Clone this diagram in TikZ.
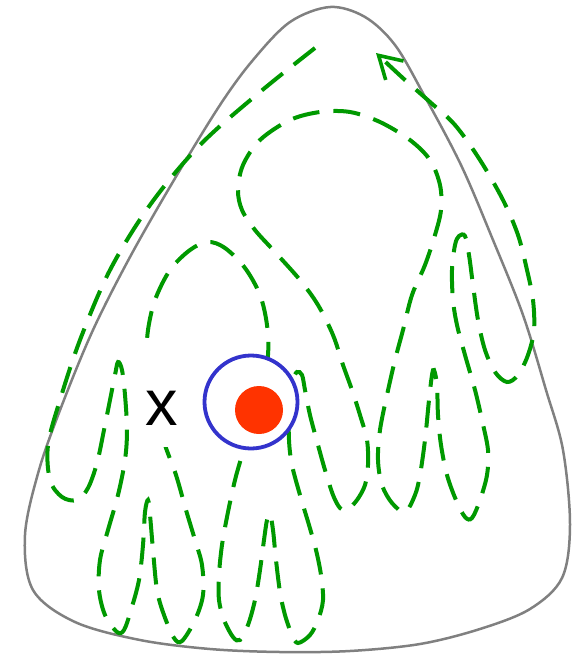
\documentclass[tikz,border=0pt]{standalone}
\usepackage{fontspec}
\setmainfont{Liberation Sans}
\usetikzlibrary{arrows.meta}
\definecolor{pathgreen}{RGB}{0,153,0}
\definecolor{ringblue}{RGB}{51,51,204}
\definecolor{dotred}{RGB}{255,51,0}
\definecolor{outlinegray}{RGB}{128,128,128}
\tikzset{
  outline/.style={draw=outlinegray, line width=2.5pt},
  windcurve/.style={draw=pathgreen, line width=4pt, dash pattern=on 27pt off 14pt},
  ring/.style={circle, draw=ringblue, line width=3.8pt, fill=white, minimum size=93pt, inner sep=0pt},
  reddot/.style={circle, fill=dotred, minimum size=48pt, inner sep=0pt},
  marklabel/.style={font=\fontsize{65}{72}\selectfont, inner sep=0pt}
}
\begin{document}
\begin{tikzpicture}[x=1pt,y=-1pt]
\useasboundingbox (0,0) rectangle (573,654);
\draw[outline] plot[smooth cycle, tension=0.55] coordinates {
 (330,7) (290,22) (253,60) (220,105) (174,180) (130,257) (93,330) (62,405) (39,470) (25,535)
 (33,590) (75,622) (140,640) (210,649) (280,652) (350,651) (420,644) (480,629) (530,609)
 (562,578) (570,525) (563,450) (546,390) (523,315) (493,240) (461,165) (424,95) (395,45) (365,17)};
\draw[windcurve, -{Straight Barb[length=22pt,width=26pt,line width=3.6pt]}] plot[smooth, tension=0.55] coordinates {
 (315,48) (260,92) (200,145) (150,205) (110,270) (80,340) (60,400) (48,445) (50,480) (62,497)
 (77,500) (88,488) (97,463) (104,430) (110,400) (115,375) (118,362) (122,370) (125,395)
 (127,430) (125,460) (118,495) (108,530) (100,560) (99,590) (105,615) (117,632) (124,630)
 (131,610) (139,580) (143,545) (145,512) (148,500) (150,515) (153,550) (157,590) (164,615)
 (174,638) (182,641) (195,620) (203,595) (202,565) (195,540) (186,510) (176,475) (165,445)
 (157,415) (150,385) (147,355) (148,330) (155,300) (170,270) (190,250) (208,242) (225,248)
 (245,268) (260,295) (267,325) (268,355) (262,390) (250,425) (242,455) (235,480) (228,512)
 (222,545) (219,575) (219,600) (224,620) (233,637) (240,640) (248,625) (255,600) (260,570)
 (264,540) (267,520) (270,514) (273,530) (276,560) (280,592) (285,615) (292,635) (298,643)
 (310,635) (318,620) (323,600) (321,575) (316,550) (309,525) (300,495) (292,465) (289,440)
 (289,405) (292,382) (297,372) (302,375) (305,390) (310,415) (318,445) (325,470) (333,495)
 (340,508) (347,510) (357,500) (365,485) (368,465) (367,440) (360,415) (352,390) (343,365)
 (333,335) (318,305) (300,280) (275,252) (255,230) (242,210) (238,190) (243,165) (260,140)
 (290,120) (320,112) (350,112) (380,122) (410,140) (430,160) (440,185) (441,210) (435,235)
 (425,265) (412,295) (403,330) (395,360) (387,395) (380,430) (378,460) (382,485) (392,503)
 (405,512) (415,495) (420,475) (425,440) (429,400) (432,375) (434,370) (437,385) (438,415)
 (441,445) (447,475) (456,500) (465,517) (472,518) (480,500) (487,475) (488,450) (482,420)
 (475,390) (465,355) (457,325) (453,300) (452,270) (455,245) (459,236) (465,236) (469,255)
 (473,285) (478,320) (485,350) (495,372) (507,382) (518,375) (528,355) (534,330) (533,300)
 (527,270) (518,235) (503,200) (480,160) (455,125) (430,102) (405,80) (376,53)};
\fill[white] (140,350) rectangle (186,447);
\node[ring] (ring) at (251,402) {};
\node[reddot] (dot) at (259,410) {};
\node[marklabel] (xlabel) at (162,408) {x};
\end{tikzpicture}
\end{document}
